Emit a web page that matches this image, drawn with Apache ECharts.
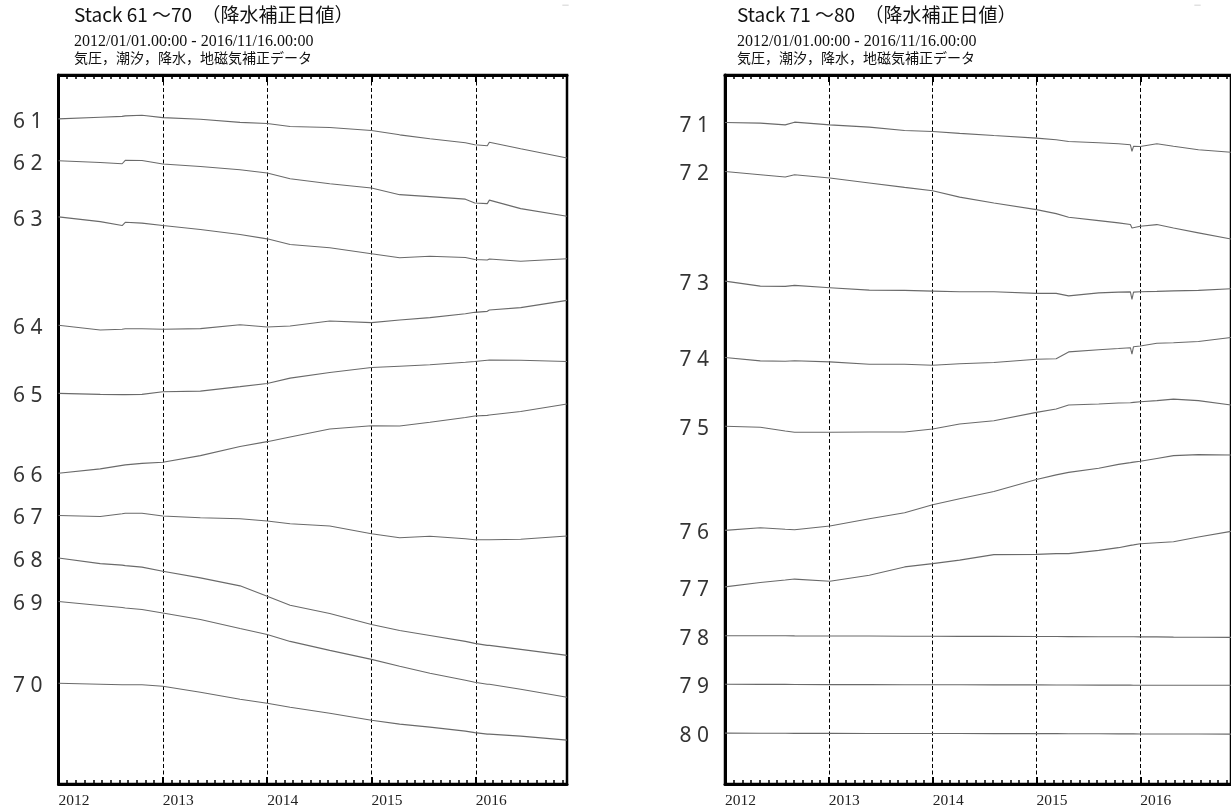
<!DOCTYPE html>
<html><head><meta charset="utf-8">
<script src="https://cdn.jsdelivr.net/npm/echarts@6/dist/echarts.min.js"></script>
<style>html,body{margin:0;padding:0;background:#fff}#c{width:1231px;height:809px}</style>
</head><body><div id="c"></div>
<script>
// ---- axis / category data ----
const yearTicks = [2012, 2013, 2014, 2015, 2016];
const xStart = 2012, xEnd = 2016.874;   // 2012/01/01 - 2016/11/16 (decimal years)
const leftNames  = ['6 1','6 2','6 3','6 4','6 5','6 6','6 7','6 8','6 9','7 0'];
const rightNames = ['7 1','7 2','7 3','7 4','7 5','7 6','7 7','7 8','7 9','8 0'];

// sample times (decimal years)
const leftTimes  = [2012.00, 2012.40, 2012.61, 2012.64, 2012.80, 2013.00, 2013.36, 2013.74, 2014.00, 2014.22,
                    2014.60, 2015.00, 2015.27, 2015.56, 2015.90, 2015.99, 2016.11, 2016.13, 2016.43, 2016.874];
const rightTimes = [2012.00, 2012.34, 2012.58, 2012.67, 2013.01, 2013.39, 2013.73, 2014.00, 2014.26, 2014.59,
                    2015.00, 2015.19, 2015.31, 2015.60, 2015.79, 2015.905, 2015.92, 2015.935, 2016.00, 2016.16,
                    2016.32, 2016.56, 2016.874];

// stacked traces (offset units, increasing downward)
const s61 = [44, 42.3, 41.5, 41, 40.3, 42.7, 44.3, 47.5, 48.7, 51.7, 52.7, 55.7, 60, 64, 68, 70, 71, 67.5, 74, 83.3];
const s62 = [86, 87.7, 89, 85.5, 85.7, 89.3, 91.7, 95, 98.3, 104, 109, 113.3, 120, 122, 124.5, 128.3, 129, 125.5, 134, 141.7];
const s63 = [142.3, 147, 151, 147.7, 148.5, 151, 155, 160, 164.3, 170, 173.3, 179.3, 183.3, 181.7, 183, 185, 185.5, 184.5, 186.7, 184.3];
const s64 = [251, 255.7, 255, 254.5, 254.5, 255, 254.3, 250.5, 252.7, 251.7, 246.7, 248.3, 245.7, 243.3, 239.5, 238, 237, 235.7, 233.3, 226];
const s65 = [319.3, 320.3, 320.5, 320.5, 320.3, 317.7, 317, 312.5, 309.3, 304, 298.3, 293.3, 292, 290.5, 288, 287.3, 286, 285.8, 286, 287.3];
const s66 = [399.3, 395, 391.5, 391, 389.5, 388.3, 381.7, 372.5, 367.7, 363, 355, 351.7, 352, 348.3, 343.5, 342, 341.3, 341, 337.5, 330];
const s67 = [441.7, 442.7, 440, 439.5, 439.5, 442.3, 444, 445, 447.3, 450, 452.3, 460, 464, 462.5, 465, 466, 466, 466, 465.5, 462.3];
const s68 = [484.3, 490, 491.5, 492, 493.5, 497.7, 504.3, 512.3, 522.7, 531.7, 540, 551, 557, 562, 568, 570, 572, 572, 576, 582];
const s69 = [528, 532, 534, 534.5, 536, 539.5, 546, 555, 561, 568, 577, 586, 593, 600, 607, 609, 611, 611, 616, 624];
const s70 = [610, 611, 611.5, 611.5, 611.5, 613, 619, 626, 630, 634, 640, 647, 651, 654, 658, 659.5, 661, 661, 663, 667];

const s71 = [47.7, 48.3, 50, 47.3, 50, 52.3, 55.7, 56.7, 58.5, 60.7, 63.3, 65, 66.7, 68, 69, 70, 76.5, 71.5, 71.7, 69, 71.5, 75, 77.5];
const s72 = [96.7, 100, 102.3, 100, 103.3, 108.3, 112.7, 116, 122.5, 128.3, 135, 139, 142.7, 146, 148.3, 150, 153.5, 151.5, 151.7, 150, 153.5, 158.3, 164.5];
const s73 = [206.7, 211.7, 212, 211, 213.3, 215.7, 216, 216.7, 217.3, 217.3, 219, 219, 221.5, 218.5, 217.7, 217.5, 225, 217.7, 217.3, 217, 216.5, 216, 214.3];
const s74 = [283.3, 286.7, 287, 286.5, 287.7, 290, 290, 291, 289.5, 288.3, 285, 284.5, 277.7, 275.5, 274.3, 273.5, 280, 272.5, 271.7, 269, 268.5, 267.3, 263.3];
const s75 = [352.3, 353.3, 357, 358.3, 358.3, 358, 358, 355, 350, 346.7, 338.3, 335, 331, 330, 329, 328.6, 328.5, 328.3, 327.7, 326.5, 325, 326.5, 331];
const s76 = [456.7, 454, 455.5, 456, 452.3, 445, 439, 431, 425, 417.7, 405.7, 401, 398.5, 394.3, 390.5, 388.7, 388.5, 388.2, 387.3, 384.5, 381.7, 380.7, 381];
const s77 = [513.3, 509, 506.5, 505.5, 507.7, 501.7, 493.3, 490, 486.5, 481, 480.7, 480, 480, 476.7, 474, 471.7, 471.5, 471.2, 470, 469, 468, 463.3, 457.7];
const s78 = [562.3, 562.4, 562.3, 562.5, 562.6, 562.6, 562.8, 562.8, 563, 563, 563.1, 563.1, 563.2, 563.3, 563.3, 563.4, 563.4, 563.4, 563.5, 563.5, 563.7, 563.8, 564];
const s79 = [611, 611.1, 611.1, 611.2, 611.3, 611.3, 611.4, 611.5, 611.5, 611.6, 611.6, 611.7, 611.7, 611.8, 611.8, 611.8, 611.8, 611.9, 611.9, 611.9, 612, 612, 612];
const s80 = [660, 660.1, 660.1, 660.2, 660.2, 660.3, 660.3, 660.4, 660.4, 660.5, 660.5, 660.5, 660.6, 660.6, 660.7, 660.7, 660.7, 660.7, 660.8, 660.8, 660.9, 660.9, 661];

const leftSeries  = [s61, s62, s63, s64, s65, s66, s67, s68, s69, s70];
const rightSeries = [s71, s72, s73, s74, s75, s76, s77, s78, s79, s80];

const titleLeft  = 'Stack 61 ～70　（降水補正日値）';
const titleRight = 'Stack 71 ～80　（降水補正日値）';
const subDate = '2012/01/01.00:00 - 2016/11/16.00:00';
const subNote = '気圧，潮汐，降水，地磁気補正データ';

// ---- chart ----
const chart = echarts.init(document.getElementById('c'), null, {renderer: 'canvas'});

function xAxes(gi) {
  const base = {
    type: 'value', gridIndex: gi, min: xStart, max: xEnd, interval: 1,
    axisLine: {show: true, onZero: false, lineStyle: {color: '#000', width: 3}},
    axisTick: {show: true, inside: true, length: 7, lineStyle: {color: '#000', width: 2}},
    minorTick: {show: true, splitNumber: 12, length: 4, lineStyle: {color: '#000', width: 1.5}},
    minorSplitLine: {show: false}
  };
  return [
    Object.assign({}, base, {
      position: 'bottom',
      axisLabel: {
        show: true, align: 'left', margin: 9, showMaxLabel: false,
        fontFamily: 'Liberation Serif', fontSize: 15.5, color: '#222',
        formatter: v => yearTicks.indexOf(Math.round(v * 1000) / 1000) >= 0 ? String(Math.round(v)) : ''
      },
      splitLine: {show: true, lineStyle: {color: '#000', width: 1, type: [4, 2.5]}}
    }),
    Object.assign({}, base, {position: 'top', axisLabel: {show: false}, splitLine: {show: false}})
  ];
}
function yAxis(gi) {
  return {
    type: 'value', gridIndex: gi, min: 0, max: 711, inverse: true,
    axisLine: {show: true, onZero: false, lineStyle: {color: '#000', width: 3}},
    axisTick: {show: false}, axisLabel: {show: false}, splitLine: {show: false}
  };
}
function traceSeries(times, list, gi) {
  return list.map(vals => ({
    type: 'line', xAxisIndex: gi * 2, yAxisIndex: gi, showSymbol: false, symbol: 'none',
    lineStyle: {color: '#6a6a6a', width: 1.1}, silent: true,
    data: times.map((t, i) => [t, vals[i]])
  }));
}
function labelSeries(times, list, names, gi) {
  return {
    type: 'scatter', xAxisIndex: gi * 2, yAxisIndex: gi, symbolSize: 2, silent: true,
    itemStyle: {color: 'rgba(0,0,0,0)'},
    label: {show: true, position: 'left', distance: 15, offset: [0, 3], formatter: '{b}',
            fontFamily: 'Noto Sans', fontSize: 21, color: '#000'},
    data: list.map((vals, i) => ({name: names[i], value: [times[0], vals[0]]}))
  };
}
function titles(x, main, dashX) {
  return [
    {text: main, left: x, top: 5, padding: 0,
     textStyle: {fontFamily: 'Noto Sans CJK JP', fontSize: 19, fontWeight: 'normal', color: '#111'}},
    {text: subDate, left: x, top: 34, padding: 0,
     textStyle: {fontFamily: 'Liberation Serif', fontSize: 16, fontWeight: 'normal', color: '#111'}},
    {text: subNote, left: x, top: 51, padding: 0,
     textStyle: {fontFamily: 'Noto Sans CJK JP', fontSize: 14, fontWeight: 'normal', color: '#111'}},
    {text: '—', left: dashX, top: 2, padding: 0,
     textStyle: {fontFamily: 'DejaVu Sans', fontSize: 7, fontWeight: 'normal', color: '#aaa'}}
  ];
}

chart.setOption({
  animation: false,
  backgroundColor: '#fff',
  title: titles(74, titleLeft, 562).concat(titles(737, titleRight, 1194)),
  grid: [
    {left: 58.5, top: 75, width: 508.5, height: 711, show: true, borderColor: '#000', borderWidth: 2.5, containLabel: false},
    {left: 725, top: 75, width: 508, height: 711, show: true, borderColor: '#000', borderWidth: 2.5, containLabel: false}
  ],
  xAxis: xAxes(0).concat(xAxes(1)),
  yAxis: [yAxis(0), yAxis(1)],
  series: traceSeries(leftTimes, leftSeries, 0)
    .concat(traceSeries(rightTimes, rightSeries, 1))
    .concat([labelSeries(leftTimes, leftSeries, leftNames, 0), labelSeries(rightTimes, rightSeries, rightNames, 1)])
});
</script>
</body></html>
